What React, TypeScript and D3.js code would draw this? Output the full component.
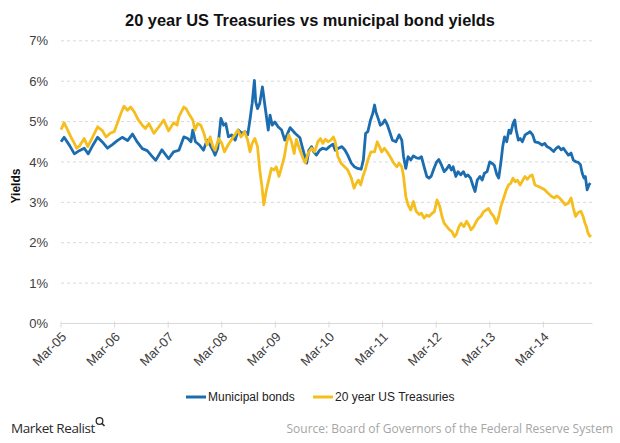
import React from "react";
import * as d3 from "d3";

// x values: months elapsed since March 2005; y values: yield in %
const xTickLabels = ["Mar-05", "Mar-06", "Mar-07", "Mar-08", "Mar-09", "Mar-10", "Mar-11", "Mar-12", "Mar-13", "Mar-14"];
const yTickValues = [0, 1, 2, 3, 4, 5, 6, 7];
const seriesNames = ["Municipal bonds", "20 year US Treasuries"];

const municipalBonds: [number, number][] = [
  [0, 4.5], [0.7, 4.61], [1.9, 4.41], [3.0, 4.2], [4.1, 4.28], [5.2, 4.34], [6.1, 4.2], [7.1, 4.41], [8.2, 4.61], [9.3, 4.49],
  [10.4, 4.34], [11.5, 4.43], [12.6, 4.53], [13.7, 4.61], [14.9, 4.53], [16.0, 4.69], [17.1, 4.49], [18.2, 4.33], [19.3, 4.28],
  [20.4, 4.14], [21.2, 4.04], [22.6, 4.3], [24.1, 4.08], [25.2, 4.25], [26.4, 4.29], [27.5, 4.62], [28.4, 4.58], [29.1, 4.5],
  [29.5, 4.79], [30.1, 4.5], [31.0, 4.42], [31.9, 4.29], [32.7, 4.54], [33.4, 4.42], [34.2, 4.25], [34.5, 4.17], [35.1, 4.34],
  [35.8, 5.08], [36.4, 4.91], [36.9, 4.95], [37.5, 4.62], [38.2, 4.67], [39.0, 4.54], [39.7, 4.79], [40.5, 4.71], [41.2, 4.75],
  [41.8, 4.67], [42.3, 5.04], [42.8, 5.45], [43.3, 6.02], [43.6, 5.49], [44.0, 5.32], [44.5, 5.45], [45.1, 5.86], [45.7, 5.36],
  [46.0, 5.12], [46.4, 4.79], [46.8, 5.16], [47.3, 4.91], [47.9, 4.99], [48.6, 4.87], [49.4, 4.79], [50.1, 4.54], [51.3, 4.85],
  [52.4, 4.71], [53.5, 4.6], [54.0, 4.38], [54.6, 4.13], [55.0, 3.97], [55.5, 4.29], [56.1, 4.38], [56.6, 4.25], [57.2, 4.17],
  [57.9, 4.29], [58.6, 4.34], [59.4, 4.31], [60.1, 4.38], [60.9, 4.44], [61.4, 4.29], [62.1, 4.34], [62.9, 4.38], [63.6, 4.29],
  [64.2, 4.17], [65.0, 3.97], [65.7, 3.88], [66.4, 3.84], [67.2, 3.82], [67.7, 4.05], [68.2, 4.71], [68.7, 4.75], [69.3, 5.04],
  [69.8, 5.2], [70.2, 5.41], [70.5, 5.24], [71.0, 5.08], [71.5, 4.91], [72.0, 4.95], [72.5, 5.04], [73.1, 4.91], [73.7, 4.71],
  [74.2, 4.54], [75.0, 4.5], [75.7, 4.67], [76.3, 4.54], [76.7, 4.13], [77.2, 3.84], [77.7, 4.13], [78.3, 4.05], [78.9, 4.15],
  [79.6, 4.1], [80.2, 4.09], [80.7, 4.13], [81.3, 3.88], [81.9, 3.64], [82.4, 3.6], [82.9, 3.65], [83.5, 3.84], [84.1, 4.0],
  [84.6, 4.06], [85.2, 3.92], [85.8, 3.76], [86.3, 3.82], [86.9, 3.92], [87.4, 3.8], [87.8, 3.88], [88.4, 3.64], [88.9, 3.76],
  [89.5, 3.68], [90.1, 3.76], [90.6, 3.64], [91.1, 3.68], [91.7, 3.6], [92.3, 3.39], [92.7, 3.27], [93.2, 3.55], [93.8, 3.64],
  [94.3, 3.55], [94.8, 3.72], [95.4, 3.76], [96.0, 4.0], [96.5, 3.97], [97.0, 3.92], [97.6, 3.68], [98.0, 3.6], [98.5, 4.0],
  [98.9, 4.38], [99.3, 4.62], [99.8, 4.5], [100.3, 4.79], [100.7, 4.71], [101.2, 4.95], [101.6, 5.04], [101.9, 4.79],
  [102.4, 4.54], [102.8, 4.58], [103.3, 4.5], [103.9, 4.67], [104.5, 4.71], [105.0, 4.75], [105.6, 4.67], [106.1, 4.5],
  [106.9, 4.48], [107.7, 4.42], [108.3, 4.46], [108.8, 4.38], [109.5, 4.34], [110.3, 4.26], [110.9, 4.34], [111.4, 4.38],
  [112.0, 4.3], [112.5, 4.34], [113.0, 4.26], [113.6, 4.17], [114.2, 4.22], [114.7, 4.05], [115.2, 4.01], [115.8, 3.99],
  [116.3, 3.93], [116.7, 3.72], [117.1, 3.6], [117.4, 3.64], [117.8, 3.31], [118.2, 3.43], [118.5, 3.48],
];

const treasuries20y: [number, number][] = [
  [0, 4.8], [0.7, 4.97], [1.5, 4.79], [2.2, 4.62], [3.0, 4.46], [3.5, 4.34], [4.1, 4.39], [5.2, 4.58], [6.0, 4.38], [7.1, 4.62],
  [8.2, 4.87], [9.3, 4.77], [10.1, 4.62], [11.0, 4.71], [11.9, 4.75], [12.6, 4.95], [13.4, 5.2], [14.1, 5.38], [14.9, 5.28],
  [15.6, 5.36], [16.4, 5.24], [17.3, 5.04], [18.2, 4.91], [18.9, 4.83], [19.7, 4.95], [20.8, 4.71], [21.9, 4.87], [23.0, 5.04],
  [24.1, 4.77], [25.2, 4.97], [26.0, 4.91], [26.4, 5.12], [27.5, 5.36], [28.0, 5.32], [28.8, 5.16], [29.5, 5.04], [30.0, 4.79],
  [30.6, 4.95], [31.3, 4.91], [32.0, 4.71], [32.7, 4.42], [33.4, 4.62], [34.0, 4.38], [34.5, 4.29], [35.3, 4.58], [36.0, 4.46],
  [36.6, 4.25], [37.4, 4.42], [38.1, 4.54], [38.9, 4.67], [39.6, 4.79], [40.3, 4.62], [41.1, 4.75], [41.8, 4.54], [42.3, 4.25],
  [42.8, 4.46], [43.4, 4.58], [44.0, 4.38], [44.5, 3.8], [45.0, 3.39], [45.4, 2.94], [46.0, 3.31], [46.5, 3.55], [47.1, 3.84],
  [47.7, 3.8], [48.2, 3.88], [48.8, 3.64], [49.4, 3.88], [50.0, 4.13], [50.5, 4.46], [51.0, 4.67], [51.6, 4.5], [52.2, 4.21],
  [52.7, 4.56], [53.5, 4.29], [54.2, 4.09], [54.7, 3.98], [55.3, 4.21], [56.1, 4.34], [56.8, 4.25], [57.5, 4.5], [58.1, 4.58],
  [58.6, 4.46], [59.2, 4.56], [59.8, 4.5], [60.4, 4.54], [61.0, 4.62], [61.4, 4.5], [62.0, 4.13], [62.7, 3.97], [63.5, 3.88],
  [64.2, 3.8], [65.0, 3.6], [65.6, 3.35], [66.1, 3.47], [66.6, 3.55], [67.1, 3.43], [67.6, 3.64], [68.1, 3.8], [68.7, 4.05],
  [69.4, 4.25], [70.2, 4.25], [70.8, 4.5], [71.3, 4.38], [71.8, 4.25], [72.4, 4.34], [73.0, 4.25], [73.7, 4.13], [74.5, 3.97],
  [75.2, 3.88], [75.7, 3.97], [76.3, 3.88], [76.7, 3.64], [77.2, 3.14], [77.7, 2.94], [78.3, 2.81], [78.9, 3.02], [79.5, 2.78],
  [80.2, 2.7], [80.7, 2.73], [81.3, 2.61], [81.9, 2.69], [82.4, 2.65], [83.1, 2.73], [83.6, 2.77], [84.2, 3.06], [84.8, 2.9],
  [85.3, 2.65], [85.8, 2.48], [86.4, 2.4], [87.0, 2.32], [87.5, 2.28], [88.1, 2.15], [88.5, 2.2], [89.1, 2.4], [89.6, 2.48],
  [90.2, 2.4], [90.8, 2.53], [91.3, 2.44], [91.8, 2.32], [92.4, 2.4], [93.0, 2.53], [93.5, 2.61], [94.0, 2.65], [94.6, 2.77],
  [95.2, 2.81], [95.7, 2.85], [96.3, 2.73], [96.9, 2.65], [97.5, 2.48], [98.0, 2.65], [98.5, 2.9], [99.1, 3.1], [99.7, 3.31],
  [100.2, 3.43], [100.7, 3.47], [101.2, 3.6], [101.7, 3.51], [102.2, 3.55], [102.8, 3.43], [103.4, 3.55], [103.9, 3.64],
  [104.4, 3.57], [105.0, 3.65], [105.5, 3.68], [106.1, 3.43], [106.9, 3.39], [107.7, 3.35], [108.3, 3.31], [109.0, 3.23],
  [109.8, 3.15], [110.5, 3.11], [111.0, 3.16], [111.6, 3.11], [112.3, 3.02], [112.9, 2.94], [113.6, 2.98], [114.2, 3.11],
  [114.7, 2.86], [115.2, 2.65], [115.8, 2.75], [116.4, 2.78], [116.9, 2.65], [117.3, 2.49], [117.6, 2.41], [118.0, 2.24],
  [118.4, 2.16], [118.6, 2.2],
];

const BLUE = "#1c6cb0";
const YELLOW = "#f5be1e";
const FONT = "Arial, 'Liberation Sans', Helvetica, sans-serif";

export default function App() {
  const W = 620;
  const H = 443;
  const x = d3.scaleLinear().domain([0, 119]).range([61, 592.5]);
  const y = d3.scaleLinear().domain([0, 7]).range([323.5, 40.8]);
  const line = d3
    .line<[number, number]>()
    .x((d) => x(d[0]))
    .y((d) => y(d[1]));
  const tickMonths = xTickLabels.map((_, i) => i * 12);
  const [x0, x1] = x.range();

  return (
    <svg
      width={W}
      height={H}
      viewBox={`0 0 ${W} ${H}`}
      style={{ position: "absolute", left: 0, top: 0, background: "#fff" }}
      fontFamily={FONT}
    >
      <rect x={0} y={0} width={W} height={H} fill="#fff" />
      <text x={310} y={26} textAnchor="middle" fontSize={16.4} fontWeight="bold" fill="#111">
        20 year US Treasuries vs municipal bond yields
      </text>

      {/* gridlines */}
      {yTickValues.map((v) =>
        v === 0 ? null : (
          <line key={"g" + v} x1={x0} x2={x1} y1={y(v)} y2={y(v)} stroke="#d9d9d9" strokeWidth={1} strokeDasharray="3,3" />
        )
      )}
      {/* y tick labels */}
      {yTickValues.map((v) => (
        <text key={"yl" + v} x={48} y={y(v)} dy="0.36em" textAnchor="end" fontSize={13} fill="#404040">
          {v + "%"}
        </text>
      ))}
      <text transform={`translate(20,186) rotate(-90)`} textAnchor="middle" fontSize={12} fontWeight="bold" fill="#111">
        Yields
      </text>

      {/* x axis */}
      <line x1={x0} x2={x1} y1={y(0)} y2={y(0)} stroke="#d9d9d9" strokeWidth={1} />
      {tickMonths.map((m) => (
        <line key={"t" + m} x1={x(m)} x2={x(m)} y1={y(0) - 2} y2={y(0) + 4} stroke="#d9d9d9" strokeWidth={1} />
      ))}
      {xTickLabels.map((lab, i) => (
        <text
          key={lab}
          transform={`translate(${x(tickMonths[i]) + 3},${y(0) + 11}) rotate(-45)`}
          textAnchor="end"
          dy="0.35em"
          fontSize={13}
          fill="#404040"
        >
          {lab}
        </text>
      ))}

      {/* series */}
      <path d={line(municipalBonds) || ""} fill="none" stroke={BLUE} strokeWidth={2.8} strokeLinejoin="round" />
      <path d={line(treasuries20y) || ""} fill="none" stroke={YELLOW} strokeWidth={2.8} strokeLinejoin="round" />

      {/* legend */}
      <line x1={186} x2={206} y1={397} y2={397} stroke={BLUE} strokeWidth={3} />
      <text x={208} y={401} fontSize={12} fill="#222">
        {seriesNames[0]}
      </text>
      <line x1={313} x2={333} y1={397} y2={397} stroke={YELLOW} strokeWidth={3} />
      <text x={335} y={401} fontSize={12} fill="#222">
        {seriesNames[1]}
      </text>

      {/* footer */}
      <text x={11} y={433} fontSize={13.5} fill="#2a2a2a" fontFamily="'Open Sans', sans-serif" letterSpacing={-0.4}>
        Market Realist
      </text>
      <circle cx={99.5} cy={421} r={3.3} fill="none" stroke="#2a2a2a" strokeWidth={1.3} />
      <line x1={101.8} y1={423.3} x2={104.5} y2={426} stroke="#2a2a2a" strokeWidth={1.6} />
      <text x={613} y={433} textAnchor="end" fontSize={12} fill="#a6a6a6" fontFamily="'Open Sans', sans-serif">
        Source: Board of Governors of the Federal Reserve System
      </text>
    </svg>
  );
}
